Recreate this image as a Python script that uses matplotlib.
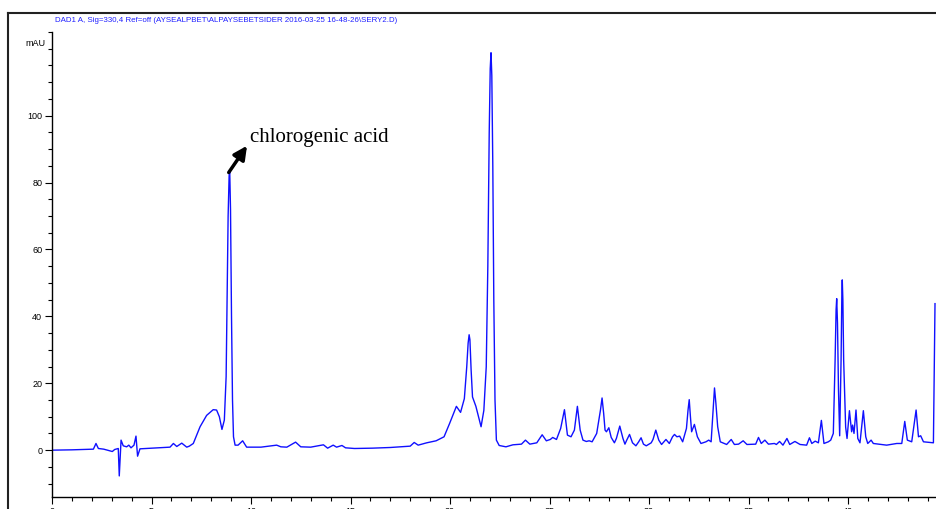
import matplotlib.pyplot as plt
from matplotlib.lines import Line2D
from matplotlib.ticker import MultipleLocator

# retention time (min) and detector signal (mAU)
time_min = [
    0.0, 1.0, 2.08, 2.21, 2.33, 2.6, 3.03, 3.15, 3.33, 3.38, 3.47, 3.58, 3.75, 3.86, 3.97,
    4.12, 4.22, 4.30, 4.42, 5.0, 5.93, 6.1, 6.27, 6.52, 6.77, 6.9, 7.1, 7.44, 7.77, 8.1,
    8.27, 8.41, 8.54, 8.66, 8.75, 8.8, 8.85, 8.9, 8.93, 8.97, 9.02, 9.07, 9.12, 9.2,
    9.35, 9.58, 9.78, 10.5, 11.29, 11.5, 11.8, 12.24, 12.5, 13.0, 13.64, 13.85, 14.13,
    14.3, 14.57, 14.75, 15.2, 16.1, 17.0, 17.5, 18.0, 18.2, 18.4, 18.83, 19.3, 19.7,
    19.98, 20.32, 20.53, 20.72, 20.84, 20.91, 20.96, 21.0, 21.06, 21.13, 21.3, 21.56,
    21.7, 21.82, 21.9, 21.97, 22.02, 22.06, 22.1, 22.15, 22.2, 22.26, 22.33, 22.47,
    22.81, 23.16, 23.59, 23.79, 24.01, 24.36, 24.63, 24.84, 25.04, 25.16, 25.35, 25.56,
    25.75, 25.9, 26.08, 26.25, 26.4, 26.54, 26.68, 26.85, 26.99, 27.14, 27.37, 27.56,
    27.64, 27.72, 27.79, 27.86, 27.98, 28.1, 28.26, 28.36, 28.53, 28.69, 28.79, 28.88,
    29.02, 29.17, 29.34, 29.48, 29.6, 29.72, 29.86, 30.11, 30.2, 30.34, 30.49, 30.63,
    30.85, 31.02, 31.18, 31.28, 31.4, 31.54, 31.69, 31.88, 31.96, 32.02, 32.08, 32.14,
    32.28, 32.43, 32.61, 32.86, 33.0, 33.12, 33.22, 33.29, 33.36, 33.45, 33.58, 33.9,
    34.13, 34.29, 34.5, 34.73, 34.92, 35.36, 35.5, 35.64, 35.82, 36.0, 36.3, 36.4,
    36.56, 36.73, 36.93, 37.07, 37.33, 37.59, 37.92, 38.06, 38.18, 38.35, 38.51, 38.66,
    38.79, 39.01, 39.13, 39.26, 39.35, 39.40, 39.43, 39.47, 39.52, 39.58, 39.65, 39.69,
    39.71, 39.74, 39.78, 39.88, 39.95, 40.07, 40.18, 40.23, 40.3, 40.4, 40.49, 40.6,
    40.77, 40.89, 40.99, 41.16, 41.27, 41.94, 42.45, 42.7, 42.85, 42.98, 43.2, 43.42,
    43.54, 43.65, 43.79, 44.29, 44.37,
]
signal_mau = [
    0.0, 0.1, 0.3, 2.0, 0.5, 0.3, -0.4, 0.2, 0.5, -7.7, 3.0, 1.3, 1.0, 1.5, 0.7,
    1.5, 4.2, -1.8, 0.4, 0.6, 0.9, 2.0, 1.1, 2.1, 0.9, 1.2, 2.0, 7.0, 10.4, 12.1,
    12.0, 10.0, 6.2, 9.0, 22.0, 45.0, 70.0, 82.0, 83.5, 72.0, 40.0, 15.0, 4.0, 1.5,
    1.5, 2.8, 0.9, 0.9, 1.5, 1.0, 0.9, 2.4, 1.0, 0.9, 1.6, 0.6, 1.5,
    0.9, 1.4, 0.7, 0.5, 0.6, 0.8, 1.0, 1.2, 2.3, 1.5, 2.2, 2.8, 4.0,
    8.0, 13.1, 11.3, 15.4, 24.9, 32.0, 34.5, 33.0, 24.0, 15.9, 13.1, 7.0,
    11.9, 24.9, 55.0, 95.0, 114.0, 118.8, 112.0, 85.0, 45.0, 15.0, 3.0, 1.4,
    1.0, 1.6, 1.8, 3.0, 1.8, 2.2, 4.6, 2.8, 3.2, 3.8, 3.2, 6.5,
    12.1, 4.5, 4.0, 6.0, 13.1, 6.0, 3.0, 2.6, 2.8, 2.5, 5.0, 12.0,
    15.6, 11.0, 6.0, 5.5, 6.7, 3.8, 2.2, 3.5, 7.2, 3.5, 1.8, 3.0,
    4.7, 2.2, 1.3, 2.5, 3.7, 1.8, 1.3, 2.2, 3.2, 6.0, 3.0, 1.7,
    3.2, 2.0, 4.0, 4.7, 4.0, 4.2, 2.5, 6.5, 12.0, 15.1, 10.0, 5.5,
    7.7, 4.0, 2.0, 2.5, 3.0, 2.5, 12.0, 18.6, 14.0, 7.0, 2.5, 1.7,
    3.2, 1.7, 1.8, 2.8, 1.7, 1.8, 3.8, 2.0, 3.0, 1.8, 2.0, 1.7,
    2.6, 1.5, 3.5, 1.7, 2.6, 1.7, 1.5, 3.7, 2.0, 2.7, 2.2, 8.9,
    2.0, 2.5, 3.0, 5.0, 26.9, 42.0, 45.3, 38.0, 18.0, 4.3, 26.9, 47.0,
    50.9, 45.0, 26.9, 6.9, 3.5, 11.8, 5.5, 7.5, 5.0, 12.0, 3.5, 2.2,
    11.8, 4.0, 2.0, 3.0, 2.0, 1.5, 2.0, 2.0, 8.6, 3.0, 2.5, 12.0,
    4.0, 4.3, 2.5, 2.2, 43.8,
]

TITLE = r"DAD1 A, Sig=330,4 Ref=off (AYSEALPBET\ALPAYSEBETSIDER 2016-03-25 16-48-26\SERY2.D)"
PEAK_LABEL = "chlorogenic acid"
PEAK_TIME, PEAK_HEIGHT = 8.93, 83.5

W, H = 936, 509
narrow = ["Liberation Sans Narrow", "Liberation Sans", "DejaVu Sans"]

fig = plt.figure(figsize=(W / 100, H / 100), dpi=100)
ax = fig.add_axes([52 / W, 1 - 497 / H, 1 - 52 / W, (497 - 32) / H])

ax.plot(time_min, signal_mau, color="#1010ff", lw=1.0)

ax.set_xlim(0, 44.42)
ax.set_ylim(-14, 125)

for side in ["top", "right"]:
    ax.spines[side].set_visible(False)
for side in ["left", "bottom"]:
    ax.spines[side].set_linewidth(1.0)

ax.xaxis.set_major_locator(MultipleLocator(5))
ax.xaxis.set_minor_locator(MultipleLocator(1))
ax.set_yticks([0, 20, 40, 60, 80, 100])
ax.yaxis.set_minor_locator(MultipleLocator(5))
ax.tick_params(axis="both", which="major", length=5, width=0.8, pad=2, labelsize=6.5)
ax.tick_params(axis="both", which="minor", length=3, width=0.8)
for lbl in ax.get_xticklabels() + ax.get_yticklabels():
    lbl.set_family(narrow)

ax.text(-0.3, 121.5, "mAU", ha="right", va="center", fontsize=6.5, family=narrow,
        transform=ax.transData, clip_on=False)

ax.annotate(PEAK_LABEL, xy=(9.75, 90.6), xytext=(9.95, 93.4),
            fontsize=15, family=["Liberation Serif", "DejaVu Serif"], va="center", ha="left")
ax.annotate("", xy=(9.8, 91.0), xytext=(PEAK_TIME - 0.05, PEAK_HEIGHT - 0.5),
            arrowprops=dict(arrowstyle="-|>", color="black", lw=2.5, mutation_scale=20,
                            shrinkA=0, shrinkB=0))

fig.text(55 / W, 1 - 20 / H, TITLE, color="#2020ff", fontsize=5.7, family=narrow,
         ha="left", va="center")

# outer frame of the report
fig.add_artist(Line2D([8 / W, 8 / W], [0, 1 - 13 / H], color="#222222", lw=1.5))
fig.add_artist(Line2D([8 / W, 1], [1 - 13 / H, 1 - 13 / H], color="#222222", lw=1.5))

fig.savefig("out.png", dpi=100)
